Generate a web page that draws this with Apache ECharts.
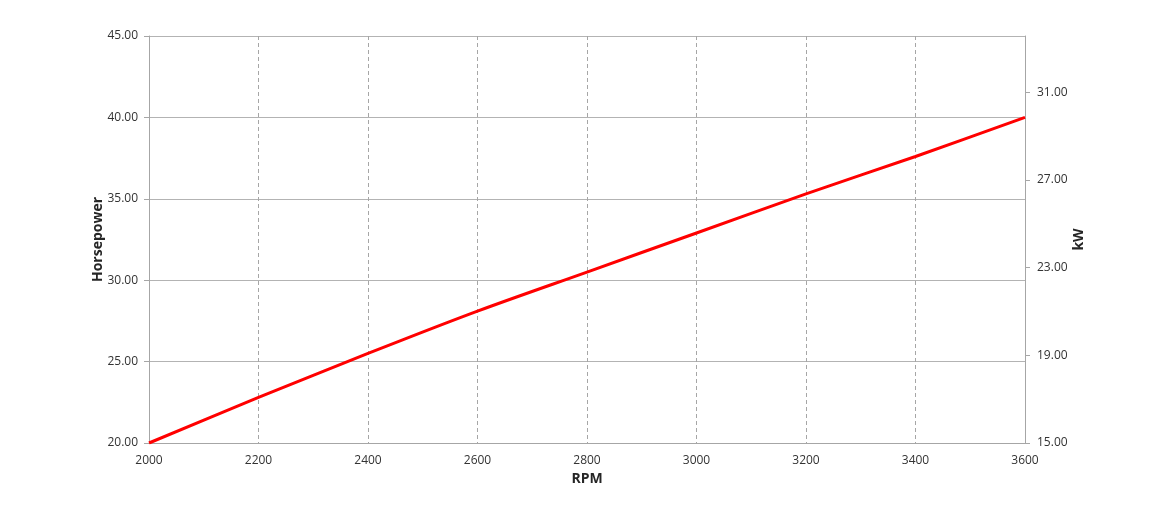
<!DOCTYPE html>
<html>
<head>
<meta charset="utf-8">
<script src="https://cdn.jsdelivr.net/npm/echarts@6/dist/echarts.min.js"></script>
<style>
html,body{margin:0;padding:0;background:#fff;}
#chart{width:1170px;height:524px;}
</style>
</head>
<body>
<div id="chart"></div>
<script>
const rpm = [2000, 2200, 2400, 2600, 2800, 3000, 3200, 3400, 3600];
const horsepower = [20.0, 22.8, 25.5, 28.1, 30.5, 32.9, 35.3, 37.6, 40.0];
const xTitle = 'RPM';
const leftTitle = 'Horsepower';
const rightTitle = 'kW';

const chart = echarts.init(document.getElementById('chart'));
const font = '"Open Sans", "Liberation Sans", sans-serif';
const axisGray = '#a6a6a6';
chart.setOption({
  animation: false,
  backgroundColor: '#fff',
  grid: {left: 149, right: 145, top: 36, bottom: 81},
  xAxis: {
    type: 'value', min: 2000, max: 3600, interval: 200,
    name: xTitle, nameLocation: 'middle', nameGap: 29, nameMoveOverlap: false,
    nameTextStyle: {fontFamily: font, fontWeight: 'bold', fontSize: 14, color: '#262626'},
    axisLine: {show: true, lineStyle: {color: axisGray, width: 1}},
    axisTick: {show: false},
    axisLabel: {fontFamily: font, fontSize: 12, color: '#333333', margin: 12,
      formatter: v => String(v)},
    splitLine: {show: true, lineStyle: {color: '#a6a6a6', type: [4, 3], width: 1}}
  },
  yAxis: [{
    type: 'value', min: 20, max: 45, interval: 5, position: 'left',
    name: leftTitle, nameLocation: 'middle', nameGap: 44, nameRotate: 90, nameMoveOverlap: false,
    nameTextStyle: {fontFamily: font, fontWeight: 'bold', fontSize: 14, color: '#262626'},
    axisLine: {show: true, lineStyle: {color: axisGray, width: 1}},
    axisTick: {show: true, length: 5, lineStyle: {color: axisGray}},
    axisLabel: {fontFamily: font, fontSize: 12, color: '#333333', margin: 11,
      formatter: v => v.toFixed(2)},
    splitLine: {show: true, lineStyle: {color: '#b3b3b3', width: 1}}
  }, {
    type: 'value', min: 15, max: 33.56, interval: 4, position: 'right',
    name: rightTitle, nameLocation: 'middle', nameGap: 47, nameRotate: 90, nameMoveOverlap: false,
    nameTextStyle: {fontFamily: font, fontWeight: 'bold', fontSize: 14, color: '#262626'},
    axisLine: {show: true, lineStyle: {color: axisGray, width: 1}},
    axisTick: {show: true, length: 5, lineStyle: {color: axisGray}},
    axisLabel: {fontFamily: font, fontSize: 12, color: '#333333', margin: 12,
      showMaxLabel: false, formatter: v => v.toFixed(2)},
    splitLine: {show: false}
  }],
  series: [{
    type: 'line', yAxisIndex: 0,
    data: rpm.map((r, i) => [r, horsepower[i]]),
    smooth: 0.3, showSymbol: false,
    lineStyle: {color: '#ff0000', width: 3},
    z: 5
  }]
});
</script>
</body>
</html>
